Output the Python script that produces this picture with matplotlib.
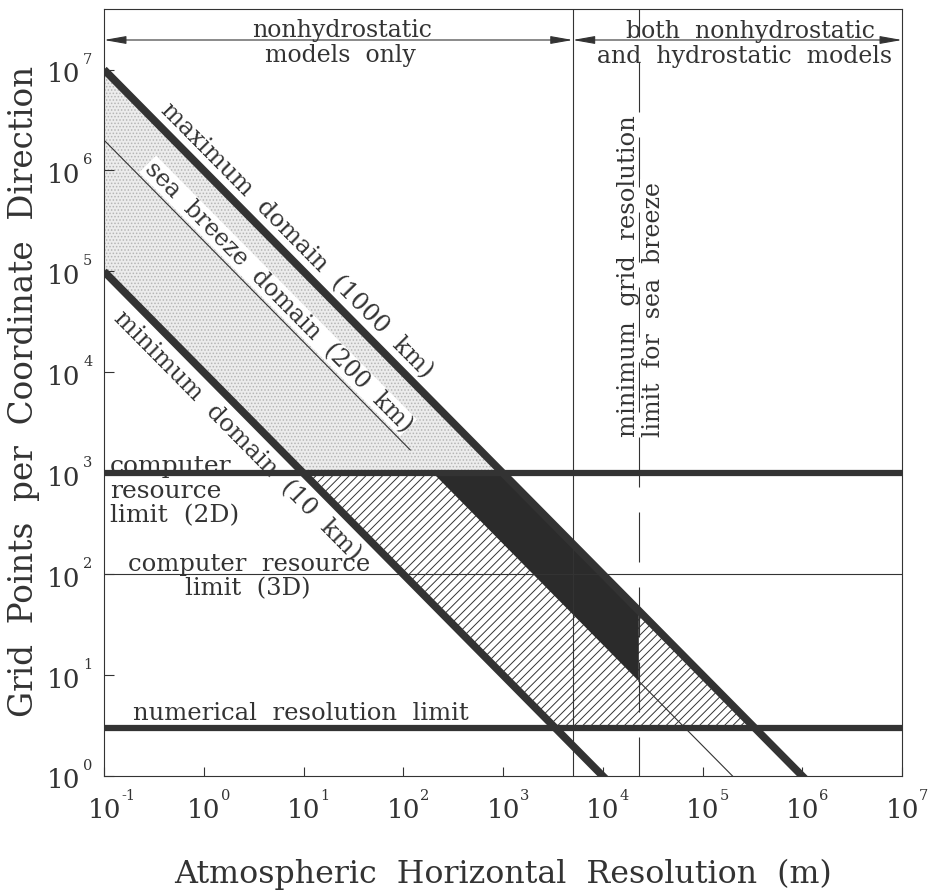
import numpy as np
import matplotlib
matplotlib.use('Agg')
import matplotlib.pyplot as plt
from matplotlib.transforms import blended_transform_factory, offset_copy

plt.rcParams['font.family'] = ['DejaVu Serif', 'DejaVu Sans']
plt.rcParams['hatch.linewidth'] = 0.7

# ---------------- data ----------------
x_decades = [-1, 0, 1, 2, 3, 4, 5, 6, 7]
y_decades = [0, 1, 2, 3, 4, 5, 6, 7]
x_tick_exponents = ['-1', '0', '1', '2', '3', '4', '5', '6', '7']
y_tick_exponents = ['0', '1', '2', '3', '4', '5', '6', '7']

max_domain_m = 1.0e6          # maximum domain (1000 km)
sea_breeze_domain_m = 2.0e5   # sea breeze domain (200 km)
min_domain_m = 1.0e4          # minimum domain (10 km)
resource_limit_2d = 1.0e3     # grid points
resource_limit_3d = 1.0e2
numerical_limit = 3.0
hydrostatic_threshold_m = 5.0e3
sea_breeze_min_res_m = 2.3e4
sea_line_upper_end_N = 1.7e3

x_min, x_max = 1e-1, 1e7
y_min, y_max = 1e0, 10 ** 7.6

INK = '#333333'

# ---------------- figure ----------------
W, H = 938, 895
fig = plt.figure(figsize=(W / 100, H / 100), dpi=100)
L, R, T, B = 104, 902, 10, 777
ax = fig.add_axes([L / W, 1 - B / H, (R - L) / W, (B - T) / H])
ax.set_xscale('log')
ax.set_yscale('log')
ax.set_xlim(x_min, x_max)
ax.set_ylim(y_min, y_max)


def P(px, py):
    return ((px - L) / (R - L), (B - py) / (B - T))


# stippled region (above 2D resource limit, between min & max domain)
stip_x = [x_min, max_domain_m / resource_limit_2d, min_domain_m / resource_limit_2d, x_min]
stip_y = [max_domain_m / x_min, resource_limit_2d, resource_limit_2d, min_domain_m / x_min]
ax.fill(stip_x, stip_y, facecolor='#ececec', edgecolor='#b5b5b5', hatch='.....',
        linewidth=0, zorder=1)

# hatched region (between 2D resource limit and numerical limit)
h_x = [min_domain_m / resource_limit_2d, max_domain_m / resource_limit_2d,
       max_domain_m / numerical_limit, min_domain_m / numerical_limit]
h_y = [resource_limit_2d, resource_limit_2d, numerical_limit, numerical_limit]
ax.fill(h_x, h_y, facecolor='white', edgecolor=INK, hatch='////', linewidth=0, zorder=1)

# black region (sea breeze feasible)
b_x = [sea_breeze_domain_m / resource_limit_2d, max_domain_m / resource_limit_2d,
       sea_breeze_min_res_m, sea_breeze_min_res_m]
b_y = [resource_limit_2d, resource_limit_2d,
       max_domain_m / sea_breeze_min_res_m, sea_breeze_domain_m / sea_breeze_min_res_m]
ax.fill(b_x, b_y, facecolor='#2b2b2b', edgecolor='none', zorder=2)

# thin lines
ax.axhline(resource_limit_3d, color=INK, lw=0.8, zorder=3)
ax.axvline(hydrostatic_threshold_m, color=INK, lw=0.8, zorder=3)
ax.axvline(sea_breeze_min_res_m, ymin=0, ymax=1, color=INK, lw=0.8,
           linestyle=(9.9, (45, 22.5)), zorder=3)

xs_up = np.logspace(np.log10(x_min), np.log10(sea_breeze_domain_m / sea_line_upper_end_N), 50)
ax.plot(xs_up, sea_breeze_domain_m / xs_up, color=INK, lw=0.8, zorder=3.2)
xs_lo = np.logspace(np.log10(sea_breeze_min_res_m), np.log10(sea_breeze_domain_m), 50)
ax.plot(xs_lo, sea_breeze_domain_m / xs_lo, color=INK, lw=0.8, zorder=3.2)

# thick lines
xs = np.logspace(-1, 7, 400)
ax.plot(xs, max_domain_m / xs, color=INK, lw=5.5, solid_capstyle='butt', zorder=4)
ax.plot(xs, min_domain_m / xs, color=INK, lw=5.5, solid_capstyle='butt', zorder=4)
ax.axhline(resource_limit_2d, color=INK, lw=4.5, zorder=4)
ax.axhline(numerical_limit, color=INK, lw=4.5, zorder=4)

# header arrows
arrow_y = P(0, 41)[1]
btr = blended_transform_factory(ax.transData, ax.transAxes)
for xa, xb in [(x_min, hydrostatic_threshold_m), (hydrostatic_threshold_m, x_max)]:
    ax.annotate('', xy=(xa, arrow_y), xytext=(xb, arrow_y), xycoords=btr, textcoords=btr,
                arrowprops=dict(arrowstyle='<|-|>,head_length=0.9,head_width=0.16',
                                color=INK, lw=0.8, shrinkA=0, shrinkB=0, mutation_scale=15),
                zorder=3)

# rotation angle of the diagonal lines in display space
p0 = ax.transData.transform((1.0, max_domain_m / 1.0))
p1 = ax.transData.transform((10.0, max_domain_m / 10.0))
ang = np.degrees(np.arctan2(p1[1] - p0[1], p1[0] - p0[0]))

tk = dict(transform=ax.transAxes, color=INK)
ax.text(*P(297, 241), 'maximum  domain  (1000  km)', rotation=ang, rotation_mode='anchor',
        ha='center', va='center', fontsize=17.5, zorder=5, **tk)
ax.text(*P(278, 297), 'sea  breeze  domain  (200  km)', rotation=ang, rotation_mode='anchor',
        ha='center', va='center', fontsize=17, zorder=3,
        bbox=dict(facecolor='white', edgecolor='none', pad=0.3), **tk)
ax.text(*P(237, 436), 'minimum  domain  (10  km)', rotation=ang, rotation_mode='anchor',
        ha='center', va='center', fontsize=17.5, zorder=5, **tk)

ax.text(*P(110, 473), 'computer', ha='left', va='baseline', fontsize=18, zorder=3.5, **tk)
ax.text(*P(110, 498), 'resource', ha='left', va='baseline', fontsize=18, zorder=5, **tk)
ax.text(*P(110, 522), 'limit  (2D)', ha='left', va='baseline', fontsize=18, zorder=5, **tk)
ax.text(*P(249, 571), 'computer  resource', ha='center', va='baseline', fontsize=17.5, zorder=5, **tk)
ax.text(*P(248, 595), 'limit  (3D)', ha='center', va='baseline', fontsize=17.5, zorder=5, **tk)
ax.text(*P(133, 720), 'numerical  resolution  limit', ha='left', va='baseline', fontsize=17.5,
        zorder=5, **tk)

ax.text(*P(342, 37), 'nonhydrostatic', ha='center', va='baseline', fontsize=17, zorder=5, **tk)
ax.text(*P(340, 62), 'models  only', ha='center', va='baseline', fontsize=17, zorder=5, **tk)
ax.text(*P(750, 38), 'both  nonhydrostatic', ha='center', va='baseline', fontsize=17, zorder=5, **tk)
ax.text(*P(745, 63), 'and  hydrostatic  models', ha='center', va='baseline', fontsize=17, zorder=5, **tk)

ax.text(*P(635, 437), 'minimum  grid  resolution', rotation=90, rotation_mode='anchor',
        ha='left', va='baseline', fontsize=17.5, zorder=5, **tk)
ax.text(*P(660, 437), 'limit  for  sea  breeze', rotation=90, rotation_mode='anchor',
        ha='left', va='baseline', fontsize=17, zorder=5,
        bbox=dict(facecolor='white', edgecolor='none', pad=1.5), **tk)

# axes styling
for s in ax.spines.values():
    s.set_color(INK)
    s.set_linewidth(0.8)
ax.set_xticks([10.0 ** d for d in x_decades])
ax.set_yticks([10.0 ** d for d in y_decades])
ax.minorticks_off()
ax.tick_params(axis='x', which='major', direction='in', length=6.5, width=0.8, color=INK,
               labelbottom=False, top=False)
ax.tick_params(axis='y', which='major', direction='in', length=7.5, width=0.8, color=INK,
               labelleft=False, right=False)

# tick labels (base "10" plus superscript exponent)
xt = blended_transform_factory(ax.transData, fig.transFigure)
xt_exp = offset_copy(xt, fig=fig, x=17, y=0, units='dots')
for d, e in zip(x_decades, x_tick_exponents):
    fig.text(10.0 ** d, 1 - 818 / H, '10', transform=xt, ha='center', va='baseline',
             fontsize=19, color=INK)
    fig.text(10.0 ** d, 1 - 800 / H, e, transform=xt_exp, ha='left', va='baseline',
             fontsize=10.5, color=INK)

yt = blended_transform_factory(fig.transFigure, ax.transData)
yt_base = offset_copy(yt, fig=fig, x=0, y=-11.5, units='dots')
yt_exp = offset_copy(yt, fig=fig, x=0, y=7, units='dots')
for d, e in zip(y_decades, y_tick_exponents):
    fig.text(80 / W, 10.0 ** d, '10', transform=yt_base, ha='right', va='baseline',
             fontsize=19, color=INK)
    fig.text(83 / W, 10.0 ** d, e, transform=yt_exp, ha='left', va='baseline',
             fontsize=10.5, color=INK)

fig.text(503 / W, 1 - 883 / H, 'Atmospheric  Horizontal  Resolution  (m)', ha='center',
         va='baseline', fontsize=22.8, color=INK)
fig.text(33 / W, 1 - 391 / H, 'Grid  Points  per  Coordinate  Direction', rotation=90,
         rotation_mode='anchor', ha='center', va='baseline', fontsize=23.5, color=INK)

fig.savefig('out.png', dpi=100)
